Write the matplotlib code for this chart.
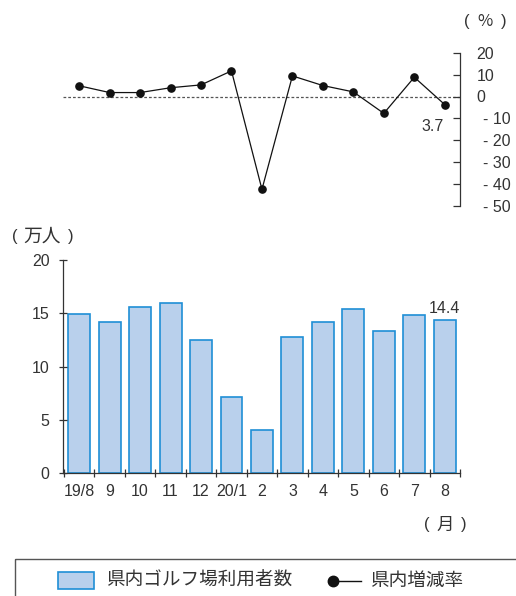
import matplotlib
matplotlib.use("Agg")
import matplotlib.pyplot as plt
from matplotlib.patches import Rectangle
from matplotlib.lines import Line2D
from matplotlib.transforms import ScaledTranslation

plt.rcParams['font.family'] = ['Liberation Sans', 'Noto Sans CJK JP', 'DejaVu Sans']

# Monthly golf course visitors in the prefecture (10k people) and YoY change (%)
months = ["19/8", "9", "10", "11", "12", "20/1", "2", "3", "4", "5", "6", "7", "8"]
visitors = [14.9, 14.2, 15.6, 16.0, 12.5, 7.2, 4.1, 12.8, 14.2, 15.4, 13.3, 14.8, 14.4]
change = [4.9, 1.8, 1.8, 4.0, 5.3, 11.7, -42.4, 9.4, 5.0, 2.1, -7.7, 8.8, -3.7]

rate_ticks = [20, 10, 0, -10, -20, -30, -40, -50]
count_ticks = [0, 5, 10, 15, 20]

W, H = 516, 596
fig = plt.figure(figsize=(W / 100, H / 100), dpi=100)

TXT = "#333333"
BAR_FILL = "#b9d0ec"
BAR_EDGE = "#1f8fd6"
NUM_FS = 11.5
CJK = ['Noto Sans CJK JP', 'DejaVu Sans']

x = list(range(len(months)))
xl = (-0.52, len(months) - 0.5)

def fx(px):
    return px / W

def fy(py):
    return 1 - py / H

# ---- bar chart: visitors ----
axb = fig.add_axes([fx(63.3), fy(473.3), fx(460 - 63.3), fy(260) - fy(473.3)])
axb.bar(x, visitors, width=0.72, color=BAR_FILL, edgecolor=BAR_EDGE, linewidth=1.2)
axb.set_xlim(*xl)
axb.set_ylim(0, 20)
for s in ("top", "right"):
    axb.spines[s].set_visible(False)
for s in ("left", "bottom"):
    axb.spines[s].set_color("#333333")
    axb.spines[s].set_linewidth(0.9)
axb.set_yticks(count_ticks)
axb.set_yticklabels([str(v) for v in count_ticks], fontsize=NUM_FS, color=TXT)
axb.tick_params(axis="y", direction="inout", length=6, width=0.9, pad=7, color="#333333")
axb.set_xticks([i + 0.5 for i in range(-1, len(months))])
axb.set_xticklabels([])
axb.set_xticks(x, minor=True)
axb.set_xticklabels(months, minor=True, fontsize=NUM_FS, color=TXT)
axb.tick_params(axis="x", which="major", direction="inout", length=6, width=0.9, color="#333333")
axb.tick_params(axis="x", which="minor", length=0, pad=8)

axb.annotate(f"{visitors[-1]:.1f}", xy=(x[-1], visitors[-1]), xytext=(0, 3),
             textcoords="offset points", ha="center", va="bottom", fontsize=NUM_FS, color=TXT)

# ---- line chart: year-on-year change ----
axt = fig.add_axes([fx(63.3), fy(206), fx(460 - 63.3), fy(52.7) - fy(206)])
axt.set_xlim(*xl)
axt.set_ylim(-50, 20)
axt.axhline(0, color="#555555", linewidth=0.9, linestyle=(0, (2.2, 1.6)), zorder=1)
axt.plot(x, change, color="#111111", linewidth=0.9, marker="o", markersize=5.2, zorder=3)
for s in ("top", "left", "bottom"):
    axt.spines[s].set_visible(False)
axt.spines["right"].set_color("#333333")
axt.spines["right"].set_linewidth(0.9)
axt.set_xticks([])
axt.yaxis.tick_right()
axt.set_yticks(rate_ticks)
axt.set_yticklabels([str(v) if v >= 0 else f"- {abs(v)}" for v in rate_ticks],
                    fontsize=NUM_FS, color=TXT)
axt.tick_params(axis="y", direction="in", length=5, width=0.9, pad=12, color="#333333")
shift = ScaledTranslation(6 / 100, 0, fig.dpi_scale_trans)
for v, lbl in zip(rate_ticks, axt.get_yticklabels()):
    if v < 0:
        lbl.set_transform(lbl.get_transform() + shift)

axt.annotate(f"{abs(change[-1]):.1f}", xy=(x[-1], change[-1]), xytext=(-1, -16),
             textcoords="offset points", ha="right", va="center", fontsize=NUM_FS, color=TXT)

# ---- unit captions, drawn in pixel space ----
axl = fig.add_axes([0, 0, 1, 1], zorder=-1)
axl.set_xlim(0, W)
axl.set_ylim(H, 0)
axl.axis("off")

def caption(xl_, xc, xr, yc, body, fs):
    axl.text(xl_, yc, "(", fontsize=12, color=TXT, ha="center", va="center")
    axl.text(xc, yc, body, fontsize=fs, color=TXT, ha="center", va="center", family=CJK)
    axl.text(xr, yc, ")", fontsize=12, color=TXT, ha="center", va="center")

caption(14.7, 42.3, 71, 236, "万人", 13.5)
caption(467, 485.5, 503.5, 21.7, "%", 12)
caption(427, 445.5, 464, 525, "月", 12.5)

# ---- legend ----
axl.add_patch(Rectangle((14.7, 558.7), 520, 60, facecolor="none", edgecolor="#555555",
                        linewidth=1.0))
axl.add_patch(Rectangle((57.7, 572), 36.6, 17, facecolor=BAR_FILL, edgecolor=BAR_EDGE,
                        linewidth=1.2))
axl.text(106, 580.5, "県内ゴルフ場利用者数", fontsize=13.4, color=TXT, va="center", ha="left",
         family=CJK)
axl.add_line(Line2D([333, 361], [580.5, 580.5], color="#111111", linewidth=1.0))
axl.add_line(Line2D([333], [580.5], color="#111111", marker="o", markersize=7.5))
axl.text(370, 580.5, "県内増減率", fontsize=13.4, color=TXT, va="center", ha="left", family=CJK)

fig.savefig("out.png", dpi=100)
